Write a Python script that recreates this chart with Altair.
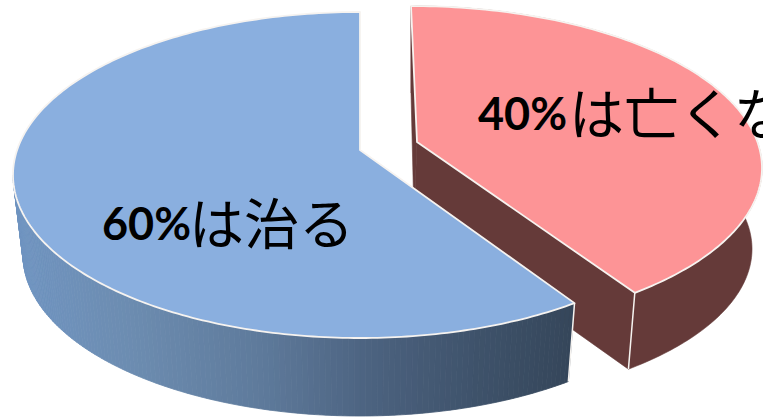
import numpy as np
import altair as alt

# Slice shares (percent) and their labels
SHARES = [60, 40]
VALUE_LABELS = ["60%", "40%"]
TEXT_LABELS = ["は治る", "は亡くなる"]

# Colours
TOP_COLORS = ["#8AAFDF", "#FD9496"]
SIDE_RED = "#653A39"
EDGE = "#F6F3F0"
SIDE_STOPS_X = [20, 130, 260, 383, 480, 575]
SIDE_STOPS_RGB = [
    [112, 148, 192],
    [108, 140, 176],
    [94, 122, 155],
    [74, 96, 125],
    [62, 82, 106],
    [53, 70, 90],
]

# Projected disc geometry: centre and radii of the upper and lower rims,
# hub of the slice, and how the perspective bends the sweep angle
BLUE = dict(top=(360, 175, 347, 163), bottom=(360, 255, 337, 161), hub=(360, 150), hub_low=(360, 230), bend=2.3)
RED = dict(top=(411, 168, 351, 162), bottom=(411, 249, 341, 156), hub=(417, 142), hub_low=(414, 217), bend=3.8)


def rim(ellipse, deg):
    cx, cy, a, b = ellipse
    t = np.radians(deg)
    return np.column_stack([cx + a * np.cos(t), cy - b * np.sin(t)])


def polygon(points, fill, stroke):
    ring = [[float(x), float(y)] for x, y in points]
    ring.append(ring[0])
    return {
        "type": "Feature",
        "geometry": {"type": "Polygon", "coordinates": [ring]},
        "properties": {"fill": fill, "stroke": stroke},
    }


def side_color(x):
    rgb = [np.interp(x, SIDE_STOPS_X, [c[i] for c in SIDE_STOPS_RGB]) for i in range(3)]
    return "#%02x%02x%02x" % tuple(int(round(v)) for v in rgb)


# The blue slice sweeps counter-clockwise from twelve o'clock, the red one clockwise
blue_sweep = 360 * SHARES[0] / 100
red_sweep = 360 * SHARES[1] / 100
theta = np.linspace(0, blue_sweep, 241)
blue_deg = 90 + theta + BLUE["bend"] * np.sin(np.radians(2 * theta))
theta = np.linspace(0, red_sweep, 161)
red_deg = 90 - theta - RED["bend"] * np.sin(np.radians(2 * theta))

blue_top = rim(BLUE["top"], blue_deg)
blue_low = rim(BLUE["bottom"], blue_deg)
red_top = rim(RED["top"], red_deg)
red_low = rim(RED["bottom"], red_deg)

# Side walls, painted back to front
walls = [
    polygon([red_top[0], RED["hub"], RED["hub_low"], red_low[0]], SIDE_RED, SIDE_RED),
    polygon([RED["hub"], red_top[-1], red_low[-1], RED["hub_low"]], SIDE_RED, SIDE_RED),
    polygon(list(red_top) + list(red_low[::-1]), SIDE_RED, SIDE_RED),
]
front = blue_deg >= 180
blue_top_front = blue_top[front]
blue_low_front = blue_low[front]
for i in range(len(blue_top_front) - 1):
    quad = [blue_top_front[i], blue_top_front[i + 1], blue_low_front[i + 1], blue_low_front[i]]
    col = side_color((quad[0][0] + quad[1][0]) / 2)
    walls.append(polygon(quad, col, col))

red_walls = alt.Chart(alt.Data(values=walls[:3])).mark_geoshape(strokeWidth=0.6).encode(
    fill=alt.Fill("properties.fill:N", scale=None),
    stroke=alt.Stroke("properties.stroke:N", scale=None),
)
blue_walls = alt.Chart(alt.Data(values=walls[3:])).mark_geoshape(strokeWidth=0.8).encode(
    fill=alt.Fill("properties.fill:N", scale=None),
    stroke=alt.Stroke("properties.stroke:N", scale=None),
)

# Upper faces with their pale outlines
red_face = alt.Chart(
    alt.Data(values=[polygon([RED["hub"]] + list(red_top), TOP_COLORS[1], EDGE)])
).mark_geoshape(strokeWidth=1.8, strokeJoin="round").encode(
    fill=alt.Fill("properties.fill:N", scale=None),
    stroke=alt.Stroke("properties.stroke:N", scale=None),
)
blue_face = alt.Chart(
    alt.Data(values=[polygon([BLUE["hub"]] + list(blue_top), TOP_COLORS[0], EDGE)])
).mark_geoshape(strokeWidth=1.8, strokeJoin="round").encode(
    fill=alt.Fill("properties.fill:N", scale=None),
    stroke=alt.Stroke("properties.stroke:N", scale=None),
)

# Vertical seams at the outer corners of both slices
seams = alt.Chart(
    alt.Data(
        values=[
            polygon([red_top[-1], red_low[-1]], EDGE, EDGE),
            polygon([blue_top[-1], blue_low[-1]], EDGE, EDGE),
        ]
    )
).mark_geoshape(strokeWidth=1.5, fillOpacity=0).encode(
    stroke=alt.Stroke("properties.stroke:N", scale=None),
)


def label(text, x, y, font, size, weight):
    return alt.Chart(alt.Data(values=[{"t": text}])).mark_text(
        align="left", baseline="alphabetic", font=font, fontSize=size, fontWeight=weight, color="#000000"
    ).encode(text="t:N", x=alt.value(x), y=alt.value(y))


chart = alt.layer(
    red_walls,
    red_face,
    blue_walls,
    blue_face,
    seams,
    label(VALUE_LABELS[0], 102, 240, "Lato", 45, "bold"),
    label(TEXT_LABELS[0], 189, 244, "Noto Sans CJK JP", 55, "normal"),
    label(VALUE_LABELS[1], 478, 130, "Lato", 45, "bold"),
    label(TEXT_LABELS[1], 569, 134, "Noto Sans CJK JP", 55, "normal"),
).project(type="identity", scale=1, translate=[0, 0]).properties(
    width=763, height=419, padding=0, background="white", autosize=alt.AutoSizeParams(type="none")
).configure_view(stroke=None)

chart.save("out.html", embed_options={"renderer": "svg", "actions": False})
